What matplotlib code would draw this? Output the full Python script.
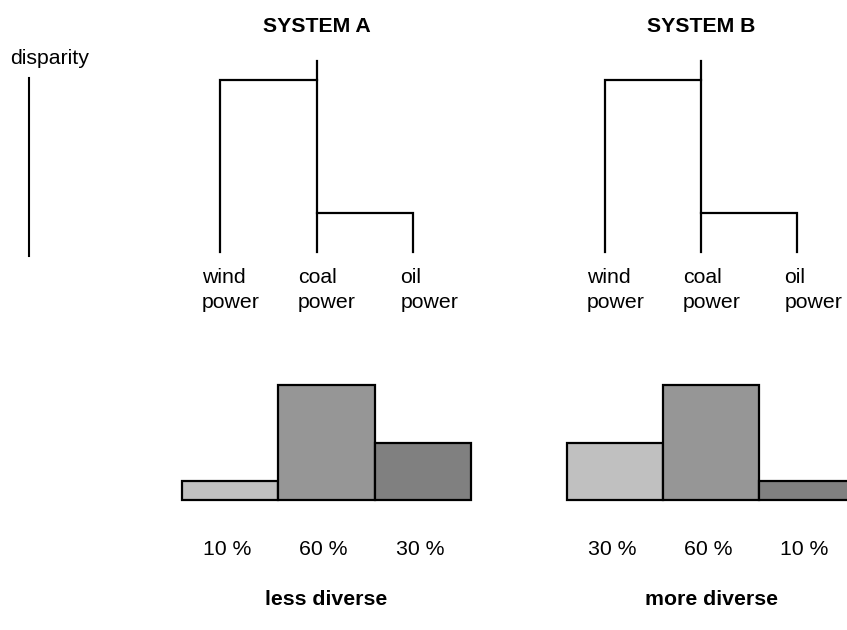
import matplotlib.pyplot as plt

plt.rcParams['font.family'] = ['Liberation Sans', 'DejaVu Sans']
plt.rcParams['font.size'] = 15.3

# data
systems = ['SYSTEM A', 'SYSTEM B']
verdicts = ['less diverse', 'more diverse']
sources = ['wind\npower', 'coal\npower', 'oil\npower']
shares = [[10, 60, 30],
          [30, 60, 10]]
# disparity tree (same for both systems): coal-oil merge, wind merge, root stem top
merge_low = 1.0
merge_high = 4.4
root_top = 4.9

bar_colors = ['#c0c0c0', '#969696', '#808080']

W, H = 847, 630
fig = plt.figure(figsize=(W / 100, H / 100), dpi=100)


def px_axes(left, top, width, height):
    # add axes from pixel box (top-left origin)
    return fig.add_axes([left / W, (H - top - height) / H, width / W, height / H])


# disparity axis on the left
ax_d = px_axes(29, 78, 1, 178)
ax_d.set_xlim(0, 1)
ax_d.set_xticks([])
ax_d.set_yticks([])
for s in ['top', 'right', 'bottom']:
    ax_d.spines[s].set_visible(False)
ax_d.spines['left'].set_linewidth(1.5)
ax_d.patch.set_alpha(0)
fig.text(49.5 / W, 1 - 59 / H, 'disparity', ha='center', va='center')

tree_x0 = [220, 605]     # pixel x of first leaf
tree_unit = [96.5, 96]
bar_x0 = [182, 567]      # pixel x of first bar's left edge
bar_unit = [96.3, 96]
label_dx = [-0.19, -0.19, -0.13]

for k in range(2):
    # dendrogram
    u = tree_unit[k]
    yu = 39.0
    ax = px_axes(tree_x0[k] - 0.5 * u, 252 - 5 * yu, 3 * u, 5 * yu)
    ax.set_xlim(-0.5, 2.5)
    ax.set_ylim(0, 5)
    ax.axis('off')
    lw = 1.6
    ax.plot([0, 0, 1], [0, merge_high, merge_high], color='black', lw=lw,
            solid_joinstyle='miter', clip_on=False)
    ax.plot([1, 1], [0, root_top], color='black', lw=lw, clip_on=False)
    ax.plot([1, 2, 2], [merge_low, merge_low, 0], color='black', lw=lw,
            solid_joinstyle='miter', clip_on=False)
    for i, name in enumerate(sources):
        ax.text(i + label_dx[i], -0.42, name, ha='left', va='top',
                linespacing=1.4, clip_on=False)
    ax.text(1, 5.77, systems[k], ha='center', va='center',
            fontweight='bold', clip_on=False)

    # shares
    bu = bar_unit[k]
    yb = 115 / 60.0
    axb = px_axes(bar_x0[k] - 0.02 * bu, 500 - 62 * yb, 3.04 * bu, 62 * yb)
    axb.bar(range(3), shares[k], width=1.0, color=bar_colors,
            edgecolor='black', linewidth=1.6, clip_on=False)
    axb.set_xlim(-0.52, 2.52)
    axb.set_ylim(0, 62)
    axb.axis('off')
    for i, v in enumerate(shares[k]):
        axb.text(i - 0.03, -26, f'{v} %', ha='center', va='center', clip_on=False)
    axb.text(1, -52, verdicts[k], ha='center', va='center',
             fontweight='bold', clip_on=False)

fig.savefig('out.png', dpi=100)
